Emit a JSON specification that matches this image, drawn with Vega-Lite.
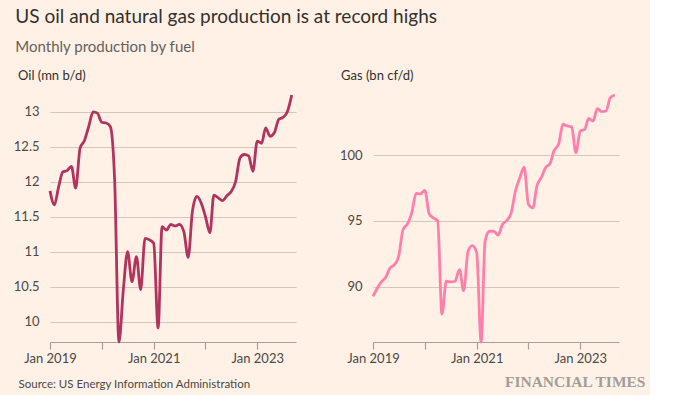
{
  "$schema": "https://vega.github.io/schema/vega-lite/v6.json",
  "background": "#FFF1E5",
  "padding": {"left": 13, "top": 8, "right": 5, "bottom": 5},
  "title": {
    "text": "US oil and natural gas production is at record highs",
    "subtitle": "Monthly production by fuel",
    "anchor": "start",
    "frame": "bounds",
    "dx": 2,
    "font": "Lato",
    "fontSize": 19,
    "fontWeight": "normal",
    "color": "#33302e",
    "subtitleFont": "Lato",
    "subtitleFontSize": 15,
    "subtitleColor": "#66605c",
    "subtitlePadding": 13,
    "offset": 15
  },
  "datasets": {
    "oil": [
      {"date": "2019-01-01", "value": 11.87}, {"date": "2019-02-01", "value": 11.67}, {"date": "2019-03-01", "value": 11.91}, {"date": "2019-04-01", "value": 12.14}, {"date": "2019-05-01", "value": 12.16}, {"date": "2019-06-01", "value": 12.22}, {"date": "2019-07-01", "value": 11.91}, {"date": "2019-08-01", "value": 12.48}, {"date": "2019-09-01", "value": 12.59}, {"date": "2019-10-01", "value": 12.79}, {"date": "2019-11-01", "value": 13.0}, {"date": "2019-12-01", "value": 12.98},
      {"date": "2020-01-01", "value": 12.85}, {"date": "2020-02-01", "value": 12.84}, {"date": "2020-03-01", "value": 12.79}, {"date": "2020-04-01", "value": 12.0}, {"date": "2020-05-01", "value": 9.71}, {"date": "2020-06-01", "value": 10.46}, {"date": "2020-07-01", "value": 11.0}, {"date": "2020-08-01", "value": 10.57}, {"date": "2020-09-01", "value": 10.93}, {"date": "2020-10-01", "value": 10.46}, {"date": "2020-11-01", "value": 11.19}, {"date": "2020-12-01", "value": 11.17},
      {"date": "2021-01-01", "value": 11.12}, {"date": "2021-02-01", "value": 9.91}, {"date": "2021-03-01", "value": 11.36}, {"date": "2021-04-01", "value": 11.31}, {"date": "2021-05-01", "value": 11.39}, {"date": "2021-06-01", "value": 11.37}, {"date": "2021-07-01", "value": 11.39}, {"date": "2021-08-01", "value": 11.29}, {"date": "2021-09-01", "value": 10.92}, {"date": "2021-10-01", "value": 11.58}, {"date": "2021-11-01", "value": 11.79}, {"date": "2021-12-01", "value": 11.7},
      {"date": "2022-01-01", "value": 11.5}, {"date": "2022-02-01", "value": 11.27}, {"date": "2022-03-01", "value": 11.81}, {"date": "2022-04-01", "value": 11.77}, {"date": "2022-05-01", "value": 11.73}, {"date": "2022-06-01", "value": 11.8}, {"date": "2022-07-01", "value": 11.86}, {"date": "2022-08-01", "value": 12.0}, {"date": "2022-09-01", "value": 12.34}, {"date": "2022-10-01", "value": 12.39}, {"date": "2022-11-01", "value": 12.37}, {"date": "2022-12-01", "value": 12.15},
      {"date": "2023-01-01", "value": 12.58}, {"date": "2023-02-01", "value": 12.55}, {"date": "2023-03-01", "value": 12.77}, {"date": "2023-04-01", "value": 12.65}, {"date": "2023-05-01", "value": 12.7}, {"date": "2023-06-01", "value": 12.89}, {"date": "2023-07-01", "value": 12.92}, {"date": "2023-08-01", "value": 13.0}, {"date": "2023-09-01", "value": 13.24}
    ],
    "gas": [
      {"date": "2019-01-01", "value": 89.26}, {"date": "2019-02-01", "value": 89.9}, {"date": "2019-03-01", "value": 90.36}, {"date": "2019-04-01", "value": 90.71}, {"date": "2019-05-01", "value": 91.42}, {"date": "2019-06-01", "value": 91.68}, {"date": "2019-07-01", "value": 92.32}, {"date": "2019-08-01", "value": 94.35}, {"date": "2019-09-01", "value": 94.78}, {"date": "2019-10-01", "value": 95.62}, {"date": "2019-11-01", "value": 97.1}, {"date": "2019-12-01", "value": 97.07},
      {"date": "2020-01-01", "value": 97.33}, {"date": "2020-02-01", "value": 95.55}, {"date": "2020-03-01", "value": 95.24}, {"date": "2020-04-01", "value": 94.99}, {"date": "2020-05-01", "value": 87.91}, {"date": "2020-06-01", "value": 90.41}, {"date": "2020-07-01", "value": 90.36}, {"date": "2020-08-01", "value": 90.41}, {"date": "2020-09-01", "value": 91.3}, {"date": "2020-10-01", "value": 89.69}, {"date": "2020-11-01", "value": 92.7}, {"date": "2020-12-01", "value": 93.13},
      {"date": "2021-01-01", "value": 92.57}, {"date": "2021-02-01", "value": 85.78}, {"date": "2021-03-01", "value": 93.46}, {"date": "2021-04-01", "value": 94.22}, {"date": "2021-05-01", "value": 94.22}, {"date": "2021-06-01", "value": 93.92}, {"date": "2021-07-01", "value": 94.73}, {"date": "2021-08-01", "value": 95.04}, {"date": "2021-09-01", "value": 95.62}, {"date": "2021-10-01", "value": 97.28}, {"date": "2021-11-01", "value": 98.3}, {"date": "2021-12-01", "value": 99.11},
      {"date": "2022-01-01", "value": 96.26}, {"date": "2022-02-01", "value": 96.0}, {"date": "2022-03-01", "value": 97.66}, {"date": "2022-04-01", "value": 98.3}, {"date": "2022-05-01", "value": 99.06}, {"date": "2022-06-01", "value": 99.36}, {"date": "2022-07-01", "value": 100.38}, {"date": "2022-08-01", "value": 100.84}, {"date": "2022-09-01", "value": 102.37}, {"date": "2022-10-01", "value": 102.24}, {"date": "2022-11-01", "value": 102.19}, {"date": "2022-12-01", "value": 100.2},
      {"date": "2023-01-01", "value": 101.86}, {"date": "2023-02-01", "value": 101.98}, {"date": "2023-03-01", "value": 102.82}, {"date": "2023-04-01", "value": 102.62}, {"date": "2023-05-01", "value": 103.56}, {"date": "2023-06-01", "value": 103.33}, {"date": "2023-07-01", "value": 103.38}, {"date": "2023-08-01", "value": 104.4}, {"date": "2023-09-01", "value": 104.6}
    ]
  },
  "spacing": 41,
  "hconcat": [
    {
      "width": 246,
      "height": 247,
      "data": {"name": "oil"},
      "title": {"text": "Oil (mn b/d)", "anchor": "start", "frame": "group", "dx": -32, "font": "Lato", "fontSize": 13, "fontWeight": "normal", "color": "#33302e", "offset": 6},
      "mark": {"type": "line", "color": "#b2335e", "strokeWidth": 2.8, "interpolate": "monotone"},
      "encoding": {
        "x": {
          "field": "date", "type": "temporal",
          "scale": {"type": "utc", "domain": [{"year": 2019, "month": 1, "date": 1, "utc": true}, {"year": 2023, "month": 10, "date": 1, "utc": true}]},
          "axis": {
            "values": [{"year": 2019, "month": 1, "date": 1, "utc": true}, {"year": 2020, "month": 1, "date": 1, "utc": true}, {"year": 2021, "month": 1, "date": 1, "utc": true}, {"year": 2022, "month": 1, "date": 1, "utc": true}, {"year": 2023, "month": 1, "date": 1, "utc": true}],
            "labelExpr": "utcyear(datum.value) % 2 == 1 ? utcFormat(datum.value, '%b %Y') : ''",
            "grid": false,
            "title": "Source: US Energy Information Administration",
            "titleFont": "Lato", "titleFontSize": 11.5, "titleFontWeight": "normal", "titleColor": "#4d4845",
            "titleAnchor": null, "titleAlign": "left", "titleBaseline": "alphabetic",
            "titleX": -32, "titleY": 45
          }
        },
        "y": {
          "field": "value", "type": "quantitative",
          "scale": {"zero": false, "nice": false},
          "axis": {"values": [10, 10.5, 11, 11.5, 12, 12.5, 13], "format": ".1~f", "title": null}
        }
      }
    },
    {
      "width": 246,
      "height": 247,
      "data": {"name": "gas"},
      "title": {"text": "Gas (bn cf/d)", "anchor": "start", "frame": "group", "dx": -32, "font": "Lato", "fontSize": 13, "fontWeight": "normal", "color": "#33302e", "offset": 6},
      "mark": {"type": "line", "color": "#ff7faa", "strokeWidth": 2.8, "interpolate": "monotone"},
      "encoding": {
        "x": {
          "field": "date", "type": "temporal",
          "scale": {"type": "utc", "domain": [{"year": 2019, "month": 1, "date": 1, "utc": true}, {"year": 2023, "month": 10, "date": 1, "utc": true}]},
          "axis": {
            "values": [{"year": 2019, "month": 1, "date": 1, "utc": true}, {"year": 2020, "month": 1, "date": 1, "utc": true}, {"year": 2021, "month": 1, "date": 1, "utc": true}, {"year": 2022, "month": 1, "date": 1, "utc": true}, {"year": 2023, "month": 1, "date": 1, "utc": true}],
            "labelExpr": "utcyear(datum.value) % 2 == 1 ? utcFormat(datum.value, '%b %Y') : ''",
            "grid": false,
            "title": "FINANCIAL TIMES",
            "titleFont": "Liberation Serif", "titleFontSize": 15.5, "titleFontWeight": "bold", "titleColor": "#a39d98",
            "titleAnchor": null, "titleAlign": "right", "titleBaseline": "alphabetic",
            "titleX": 272, "titleY": 44
          }
        },
        "y": {
          "field": "value", "type": "quantitative",
          "scale": {"zero": false, "nice": false},
          "axis": {"values": [90, 95, 100], "format": "~f", "title": null}
        }
      }
    }
  ],
  "config": {
    "view": {"stroke": null},
    "axisX": {
      "domainColor": "#a79f98", "domainWidth": 1.2,
      "tickColor": "#a79f98", "tickSize": 7, "tickWidth": 1.2,
      "labelFont": "Lato", "labelFontSize": 13, "labelColor": "#4d4845", "labelPadding": 3,
      "labelFlush": false, "labelOverlap": false
    },
    "axisY": {
      "domain": false, "ticks": false, "grid": true,
      "gridColor": "#d4c7bc", "gridWidth": 1,
      "labelFont": "Lato", "labelFontSize": 13, "labelColor": "#4d4845", "labelPadding": 11
    }
  }
}
